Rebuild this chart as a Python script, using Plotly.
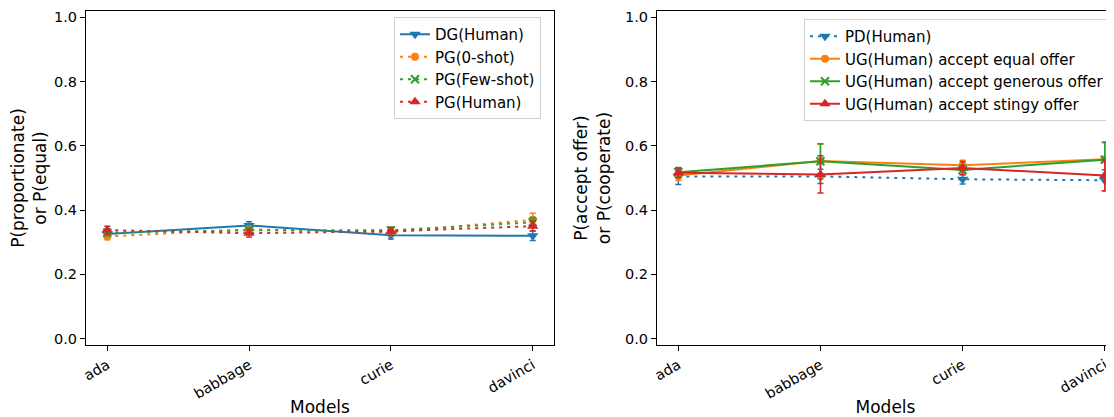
import plotly.graph_objects as go

models = ["ada", "babbage", "curie", "davinci"]
xpos = [0, 1, 2, 3]

# Left panel: P(proportionate) or P(equal)
dg_human = [0.326, 0.352, 0.322, 0.320]
dg_human_err = [0.012, 0.012, 0.012, 0.015]
pg_zero = [0.318, 0.340, 0.331, 0.370]
pg_zero_err = [0.010, 0.010, 0.010, 0.020]
pg_few = [0.330, 0.337, 0.337, 0.362]
pg_few_err = [0.010, 0.010, 0.010, 0.015]
pg_human = [0.338, 0.328, 0.334, 0.350]
pg_human_err = [0.012, 0.012, 0.012, 0.015]

# Right panel: P(accept offer) or P(cooperate)
pd_human = [0.505, 0.505, 0.496, 0.493]
pd_human_err = [0.025, 0.022, 0.015, 0.033]
ug_equal = [0.508, 0.553, 0.540, 0.558]
ug_equal_err = [0.015, 0.052, 0.015, 0.052]
ug_generous = [0.518, 0.552, 0.525, 0.557]
ug_generous_err = [0.015, 0.055, 0.015, 0.055]
ug_stingy = [0.516, 0.511, 0.531, 0.508]
ug_stingy_err = [0.015, 0.058, 0.020, 0.048]

BLUE, ORANGE, GREEN, RED = "#1f77b4", "#ff7f0e", "#2ca02c", "#d62728"
FONT = "DejaVu Sans"

fig = go.Figure()


def add(y, err, name, color, symbol, dash, xa, ya, legend):
    if symbol == "x":
        marker = dict(symbol="x-thin", size=8, color=color, line=dict(width=2, color=color))
    elif symbol.startswith("triangle"):
        marker = dict(symbol=symbol, size=10, color=color)
    else:
        marker = dict(symbol=symbol, size=8, color=color)
    fig.add_trace(go.Scatter(
        x=xpos, y=y, name=name, mode="lines+markers",
        line=dict(color=color, width=2, dash=dash),
        marker=marker,
        error_y=dict(type="data", array=err, color=color, thickness=1.5, width=3),
        xaxis=xa, yaxis=ya, legend=legend,
    ))


DOT = "3px,5px"
add(dg_human, dg_human_err, "DG(Human)", BLUE, "triangle-down", "solid", "x", "y", "legend")
add(pg_zero, pg_zero_err, "PG(0-shot)", ORANGE, "circle", DOT, "x", "y", "legend")
add(pg_few, pg_few_err, "PG(Few-shot)", GREEN, "x", DOT, "x", "y", "legend")
add(pg_human, pg_human_err, "PG(Human)", RED, "triangle-up", DOT, "x", "y", "legend")

add(pd_human, pd_human_err, "PD(Human)", BLUE, "triangle-down", DOT, "x2", "y2", "legend2")
add(ug_equal, ug_equal_err, "UG(Human) accept equal offer", ORANGE, "circle", "solid", "x2", "y2", "legend2")
add(ug_generous, ug_generous_err, "UG(Human) accept generous offer", GREEN, "x", "solid", "x2", "y2", "legend2")
add(ug_stingy, ug_stingy_err, "UG(Human) accept stingy offer", RED, "triangle-up", "solid", "x2", "y2", "legend2")

# page body adds an 8px margin; figure is sized/positioned to compensate
OFF = 8
W, H = 1114 - OFF, 417 - OFF
ml, mr, mt = 86 - OFF, 0, 11 - OFF
mb = H - (345 - OFF)
pw = W - ml - mr
ph = H - mt - mb

tickfont = dict(family=FONT, size=14.5, color="#000")
titlefont = dict(family=FONT, size=17, color="#000")

xcommon = dict(
    tickmode="array", tickvals=xpos, ticktext=models, tickangle=-30,
    ticks="outside", ticklen=5, tickwidth=1.1, tickcolor="#000",
    showline=True, linecolor="#000", linewidth=1.1, showgrid=False, zeroline=False,
    tickfont=tickfont, title=dict(text="Models", font=titlefont, standoff=4),
)
ycommon = dict(
    range=[-0.02, 1.02], tickmode="array", tickvals=[0, 0.2, 0.4, 0.6, 0.8, 1.0],
    ticktext=["0.0", "0.2", "0.4", "0.6", "0.8", "1.0"],
    ticks="outside", ticklen=5, tickwidth=1.1, tickcolor="#000",
    showline=True, linecolor="#000", linewidth=1.1, showgrid=False, zeroline=False,
    tickfont=tickfont,
)

legcommon = dict(
    font=dict(family=FONT, size=15, color="#000"),
    bgcolor="rgba(255,255,255,0.8)", bordercolor="#d0d0d0", borderwidth=1,
    xanchor="left", yanchor="top", xref="paper", yref="paper",
)


def px_x(x):
    return (x - OFF - ml) / pw


def px_y(y):
    return 1 - (y - OFF - mt) / ph


fig.update_layout(
    width=W, height=H,
    margin=dict(l=ml, r=mr, t=mt, b=mb, autoexpand=False),
    paper_bgcolor="white", plot_bgcolor="white",
    font=dict(family=FONT, color="#000"),
    xaxis=dict(domain=[0, px_x(554)], range=[-0.15, 3.15], mirror=True, **xcommon),
    yaxis=dict(domain=[0, 1], anchor="x", mirror=True,
               title=dict(text="P(proportionate)<br>or P(equal)", font=titlefont, standoff=10),
               **ycommon),
    xaxis2=dict(domain=[px_x(657), 1], range=[-0.15, 3.065], anchor="y2", mirror=True, **xcommon),
    yaxis2=dict(domain=[0, 1], anchor="x2", mirror=False,
                title=dict(text="P(accept offer)<br>or P(cooperate)", font=titlefont, standoff=10),
                **ycommon),
    legend=dict(x=px_x(394), y=px_y(17), **legcommon),
    legend2=dict(x=px_x(804), y=px_y(19), **legcommon),
    showlegend=True,
)

fig.write_html("out.html")
